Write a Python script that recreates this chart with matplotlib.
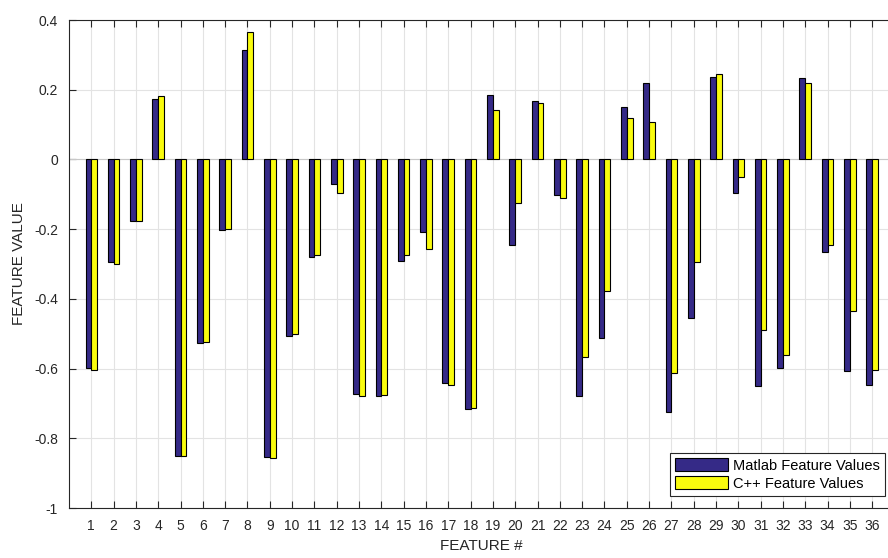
import numpy as np
import matplotlib
matplotlib.use("Agg")
import matplotlib.pyplot as plt

plt.rcParams['font.family'] = ['Liberation Sans', 'DejaVu Sans']

# === DATA ===
features = list(range(1, 37))
matlab_vals = [-0.599, -0.295, -0.176, 0.173, -0.850, -0.528, -0.203, 0.314, -0.854, -0.507,
               -0.279, -0.070, -0.674, -0.679, -0.290, -0.209, -0.642, -0.717, 0.186, -0.246,
               0.168, -0.103, -0.680, -0.513, 0.150, 0.219, -0.726, -0.456, 0.236, -0.096,
               -0.651, -0.599, 0.233, -0.267, -0.608, -0.647]
cpp_vals = [-0.605, -0.301, -0.176, 0.183, -0.851, -0.525, -0.200, 0.366, -0.856, -0.502,
            -0.275, -0.097, -0.678, -0.677, -0.275, -0.257, -0.648, -0.713, 0.141, -0.126,
            0.161, -0.110, -0.568, -0.378, 0.118, 0.108, -0.614, -0.295, 0.245, -0.051,
            -0.489, -0.562, 0.219, -0.246, -0.436, -0.605]
series_names = ['Matlab Feature Values', 'C++ Feature Values']
y_ticks = [-1, -0.8, -0.6, -0.4, -0.2, 0, 0.2, 0.4]
y_tick_labels = ['-1', '-0.8', '-0.6', '-0.4', '-0.2', '0', '0.2', '0.4']

blue = '#352A87'
yellow = '#F9FB0E'
text_col = '#262626'

fig = plt.figure(figsize=(8.88, 5.58), dpi=100)
# axes runs off the right edge of the picture, like the reference
ax = fig.add_axes([69 / 888, 1 - 508 / 558, 825.5 / 888, 488 / 558])

x = np.array(features)
w = 0.26
ax.bar(x - w / 2, matlab_vals, w, color=blue, edgecolor='black', linewidth=0.8,
       label=series_names[0], zorder=3)
ax.bar(x + w / 2, cpp_vals, w, color=yellow, edgecolor='black', linewidth=0.8,
       label=series_names[1], zorder=3)

ax.set_xlim(0, 37)
ax.set_ylim(-1, 0.4)
ax.set_xticks(features)
ax.set_xticklabels([str(f) for f in features])
ax.set_yticks(y_ticks)
ax.set_yticklabels(y_tick_labels)

ax.grid(True, color='#e3e3e3', linewidth=0.8, zorder=0)
ax.axhline(0, color='#c8c8c8', linewidth=0.8, zorder=1)
ax.set_axisbelow(True)

ax.tick_params(direction='in', top=True, right=True, length=5, width=0.8,
               colors=text_col, labelsize=10, labelcolor=text_col, pad=8)
for s in ax.spines.values():
    s.set_color(text_col)
    s.set_linewidth(0.8)

ax.set_xlabel('FEATURE #', fontsize=11, color=text_col, labelpad=4)
ax.set_ylabel('FEATURE VALUE', fontsize=11, color=text_col, labelpad=6)

leg = ax.legend(loc='lower right', bbox_to_anchor=(885 / 888, 1 - 496 / 558),
                bbox_transform=fig.transFigure, fontsize=10.5, frameon=True,
                fancybox=False, edgecolor=text_col, framealpha=1,
                handlelength=3.6, handleheight=1.0, handletextpad=0.35,
                borderpad=0.35, labelspacing=0.25, borderaxespad=0)
leg.get_frame().set_linewidth(0.8)

fig.savefig('out.png', dpi=100)
